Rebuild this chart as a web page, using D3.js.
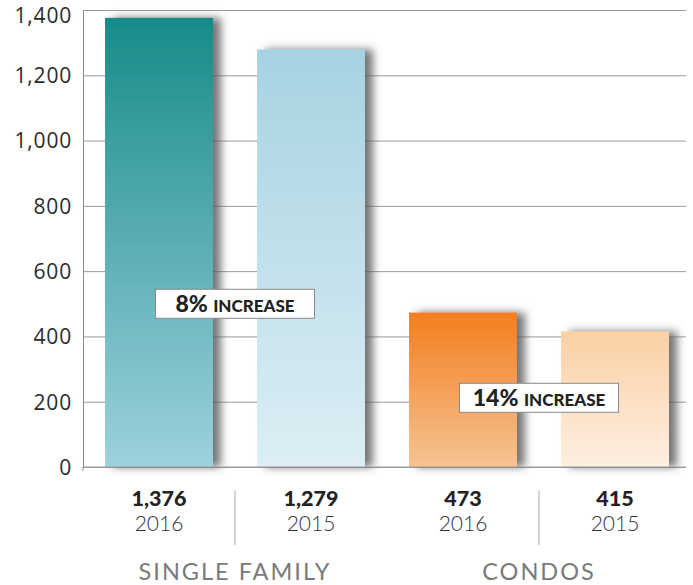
<!DOCTYPE html>
<html>
<head>
<meta charset="utf-8">
<script src="https://cdn.jsdelivr.net/npm/d3@7"></script>
<style>
  body { margin: 0; background: #fff; }
  svg { display: block; font-family: Lato, "Open Sans", sans-serif; }
</style>
</head>
<body>
<div id="chart"></div>
<script>
const width = 693
const height = 585

// data
const bars = ["SF2016", "SF2015", "C2016", "C2015"]
const values = [1376, 1279, 473, 415]
const years = ["2016", "2015", "2016", "2015"]
const groups = ["SINGLE FAMILY", "CONDOS"]
const yTicks = [0, 200, 400, 600, 800, 1000, 1200, 1400]
const topColors = ["#178b89", "#a6d3e1", "#f47e1f", "#fbd0a4"]
const bottomColors = ["#9dd1dd", "#ddeef5", "#f5c392", "#fdefe2"]
const notes = [
    { big: "8%", small: "INCREASE", pair: [0, 1], at: 500 },
    { big: "14%", small: "INCREASE", pair: [2, 3], at: 212 }
]

const svg = d3.select("#chart")
    .append("svg")
    .attr("width", width)
    .attr("height", height)

const margin = { left: 83, right: 7, top: 10, bottom: 118 }

const x = d3.scaleBand()
    .domain(bars)
    .range([margin.left, 691])
    .paddingInner(0.29)
    .paddingOuter(0.145)

const y = d3.scaleLinear()
    .domain([0, 1400])
    .range([height - margin.bottom, margin.top])

const defs = svg.append("defs")
bars.forEach(function (b, i) {
    const g = defs.append("linearGradient")
        .attr("id", "grad" + i)
        .attr("x1", 0).attr("x2", 0).attr("y1", 0).attr("y2", 1)
    g.append("stop").attr("offset", "0%").attr("stop-color", topColors[i])
    g.append("stop").attr("offset", "100%").attr("stop-color", bottomColors[i])
})
const shadow = defs.append("filter")
    .attr("id", "shadow")
    .attr("x", "-10%").attr("y", "-10%")
    .attr("width", "140%").attr("height", "120%")
shadow.append("feDropShadow")
    .attr("dx", 8).attr("dy", 0)
    .attr("stdDeviation", 4)
    .attr("flood-color", "#555")
    .attr("flood-opacity", 0.8)

// grid
svg.append("g")
    .attr("class", "grid")
    .attr("transform", `translate(${margin.left},0)`)
    .call(d3.axisLeft(y).tickValues(yTicks).tickSize(-(686 - margin.left)).tickFormat(""))
    .call(g => g.select(".domain").remove())
    .call(g => g.selectAll("line").attr("stroke", "#9a9a9a").attr("stroke-width", 1))

// y axis
svg.append("g")
    .attr("transform", `translate(${margin.left},0)`)
    .call(d3.axisLeft(y).tickValues(yTicks).tickSize(0).tickPadding(11).tickFormat(d3.format(",")))
    .call(g => g.select(".domain").attr("stroke", "#8a8a8a"))
    .call(g => g.selectAll("text")
        .attr("font-size", 21)
        .attr("letter-spacing", 0.8)
        .attr("fill", "#2b2b2b")
        .attr("font-family", "'Open Sans', sans-serif")
        .attr("dy", d => d === 1400 ? "0.6em" : "0.35em"))

// bars
svg.append("g")
    .selectAll("rect")
    .data(values)
    .enter()
    .append("rect")
    .attr("x", (d, i) => x(bars[i]))
    .attr("y", d => y(d))
    .attr("width", x.bandwidth())
    .attr("height", d => y(0) - y(d))
    .attr("fill", (d, i) => "url(#grad" + i + ")")
    .attr("filter", "url(#shadow)")

// baseline
svg.append("line")
    .attr("x1", margin.left).attr("x2", 686)
    .attr("y1", y(0)).attr("y2", y(0))
    .attr("stroke", "#9a9a9a")
svg.append("line")
    .attr("x1", margin.left).attr("x2", margin.left)
    .attr("y1", y(0)).attr("y2", y(0) + 4)
    .attr("stroke", "#8a8a8a")

// annotations
notes.forEach(function (n) {
    const cx = (x(bars[n.pair[0]]) + x(bars[n.pair[1]]) + x.bandwidth()) / 2
    const cy = y(n.at)
    const g = svg.append("g")
    const t = g.append("text")
        .attr("x", cx)
        .attr("y", cy + 8)
        .attr("text-anchor", "middle")
        .attr("font-weight", 900)
        .attr("fill", "#222")
    t.append("tspan").attr("font-size", 23).text(n.big + " ")
    t.append("tspan").attr("font-size", 17).text(n.small)
    const w = 159
    g.insert("rect", "text")
        .attr("x", cx - w / 2)
        .attr("y", cy - 14.5)
        .attr("width", w)
        .attr("height", 29)
        .attr("fill", "#fff")
        .attr("stroke", "#8a8a8a")
        .attr("stroke-width", 1)
})

// bottom labels
const labels = svg.append("g")
labels.selectAll(".val")
    .data(values)
    .enter()
    .append("text")
    .attr("x", (d, i) => x(bars[i]) + x.bandwidth() / 2)
    .attr("y", 506)
    .attr("text-anchor", "middle")
    .attr("font-size", 21.5)
    .attr("font-weight", 900)
    .attr("fill", "#222")
    .text(d => d3.format(",")(d))
labels.selectAll(".yr")
    .data(years)
    .enter()
    .append("text")
    .attr("x", (d, i) => x(bars[i]) + x.bandwidth() / 2)
    .attr("y", 531)
    .attr("text-anchor", "middle")
    .attr("font-size", 21)
    .attr("font-weight", 300)
    .attr("fill", "#333")
    .text(d => d)

// group dividers and names
groups.forEach(function (name, gi) {
    const a = x(bars[gi * 2]) + x.bandwidth() / 2
    const b = x(bars[gi * 2 + 1]) + x.bandwidth() / 2
    const mid = (a + b) / 2
    svg.append("line")
        .attr("x1", mid).attr("x2", mid)
        .attr("y1", 490).attr("y2", 545)
        .attr("stroke", "#aaa")
    svg.append("text")
        .attr("x", mid)
        .attr("y", 580)
        .attr("text-anchor", "middle")
        .attr("font-size", 23.5)
        .attr("letter-spacing", 2)
        .attr("fill", "#7a7a7a")
        .text(name)
})
</script>
</body>
</html>
